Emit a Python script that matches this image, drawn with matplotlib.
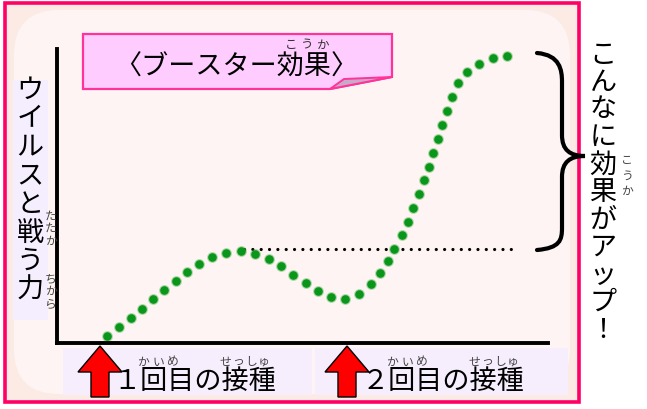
import matplotlib
matplotlib.use('Agg')
import matplotlib.pyplot as plt
from matplotlib.patches import Rectangle, Polygon, FancyBboxPatch, PathPatch
from matplotlib.path import Path

plt.rcParams['font.family'] = ['Noto Sans CJK JP', 'DejaVu Sans']

# ---- data (time in arbitrary units 0-100, strength 0-100) ----
time = [10.2, 12.6, 15.1, 17.3, 19.6, 21.8, 24.2, 26.5, 28.9, 31.6, 34.4, 37.5,
        40.3, 43.2, 45.6, 48.1, 50.7, 53.2, 55.8, 58.7, 61.5, 64.0, 65.8, 67.4,
        68.6, 70.3, 71.5, 72.5, 73.7, 74.7, 75.8, 76.6, 77.6, 78.4, 79.4, 80.4,
        81.7, 83.5, 85.9, 88.8, 91.6]
strength = [2.4, 5.4, 8.5, 11.6, 15.0, 18.0, 21.1, 24.1, 26.9, 29.3, 30.6, 31.3,
            30.3, 28.6, 26.2, 23.1, 20.4, 17.7, 15.6, 15.0, 16.7, 20.1, 23.8, 27.9,
            32.0, 36.7, 41.2, 45.9, 50.7, 55.4, 59.9, 64.6, 69.4, 74.1, 78.9, 83.7,
            88.4, 92.2, 94.9, 96.9, 97.6]
ref_level = 32.0
ref_range = [38.1, 93.9]

title = "〈ブースター効果〉"
title_ruby = "こうか"
ylabel = "ウイルスと戦う力"
side_note = "こんなに効果がアップ！"
dose_labels = ["１回目の接種", "２回目の接種"]
ruby_kaime = "かいめ"
ruby_sesshu = "せっしゅ"

W, H = 647, 409
fig = plt.figure(figsize=(6.47, 4.09), dpi=100)
fig.patch.set_facecolor('white')

def px_axes(z):
    a = fig.add_axes([0, 0, 1, 1], zorder=z)
    a.set_xlim(0, W)
    a.set_ylim(H, 0)
    a.axis('off')
    return a

bg = px_axes(0)
# frame background
bg.add_patch(Rectangle((5, 3), 574, 399, fc='#FCEAE4', ec='none'))
bg.add_patch(FancyBboxPatch((14, 10), 556, 384,
                            boxstyle='round,pad=0,rounding_size=45',
                            fc='#FDF4F3', ec='none'))
# y label box
bg.add_patch(Rectangle((13, 80), 35, 240, fc='#F5EEFF', ec='none'))
# bottom label boxes
bg.add_patch(Rectangle((63, 348), 249, 47, fc='#F7EEFD', ec='none'))
bg.add_patch(Rectangle((315, 348), 253, 47, fc='#F7EEFD', ec='none'))

# ---- main chart axes ----
left, right, bottom, top = 57, 548, 343, 49
ax = fig.add_axes([left / W, (H - bottom) / H, (right - left) / W, (bottom - top) / H], zorder=1)
ax.patch.set_alpha(0)
ax.set_xlim(0, 100)
ax.set_ylim(0, 100)
for s in ['top', 'right']:
    ax.spines[s].set_visible(False)
for s in ['left', 'bottom']:
    ax.spines[s].set_linewidth(2.8)
    ax.spines[s].set_color('black')
ax.set_xticks([])
ax.set_yticks([])

ax.plot(ref_range, [ref_level, ref_level], color='black', lw=2.3,
        ls=(0, (0.01, 2.6)), dash_capstyle='round', clip_on=False)
ax.plot(time, strength, ls='none', marker='o', ms=7.8, color='#4cb54c',
        alpha=0.45, mec='none', clip_on=False)
ax.plot(time, strength, ls='none', marker='o', ms=6.2, color='#0a961a',
        mec='none', clip_on=False)

# ---- foreground decorations ----
fg = px_axes(2)
fg.add_patch(Rectangle((5, 3), 574, 399, fill=False, ec='#FF0066', lw=2.6))

# title box with folded corner
fg.add_patch(Polygon([(83, 34), (392, 34), (392, 77), (330, 89), (83, 89)],
                     closed=True, fc='#FFCCFF', ec='#FF3399', lw=1.6))
fg.add_patch(Polygon([(330, 89), (344, 79), (392, 77)], closed=True,
                     fc='#C9A9C9', ec='#FF3399', lw=1.4))
fg.text(236, 67, title, fontsize=19.5, ha='center', va='center', color='black')
for i, ch in enumerate(title_ruby):
    fg.text(291 + i * 16, 45, ch, fontsize=9, ha='center', va='center', color='#333333')

# vertical y label
for i, ch in enumerate(ylabel):
    fg.text(30, 90 + i * 28.6, ch, fontsize=19.5, ha='center', va='center')
for i, ch in enumerate("たたか"):
    fg.text(51, 216 + i * 12.5, ch, fontsize=8.5, ha='center', va='center', color='#444444')
for i, ch in enumerate("ちから"):
    fg.text(51, 279 + i * 12.5, ch, fontsize=8.5, ha='center', va='center', color='#444444')

# right side note
for i, ch in enumerate(side_note):
    fg.text(603, 55 + i * 27.5, ch, fontsize=19.5, ha='center', va='center')
for i, ch in enumerate(title_ruby):
    fg.text(627, 161 + i * 15, ch, fontsize=8.5, ha='center', va='center', color='#444444')

# brace
verts = [(537, 53), (560, 55), (562, 70), (562, 82),
         (562, 135),
         (562, 150), (570, 156), (585, 156),
         (570, 156), (562, 162), (562, 177),
         (562, 228),
         (562, 240), (560, 248), (537, 250)]
codes = [Path.MOVETO, Path.CURVE4, Path.CURVE4, Path.CURVE4,
         Path.LINETO,
         Path.CURVE4, Path.CURVE4, Path.CURVE4,
         Path.CURVE4, Path.CURVE4, Path.CURVE4,
         Path.LINETO,
         Path.CURVE4, Path.CURVE4, Path.CURVE4]
fg.add_patch(PathPatch(Path(verts, codes), fill=False, ec='black', lw=3, capstyle='round'))

# arrows and dose labels
arrow_x = [100, 347]
label_x = [113, 362]
for cx, lx, lab in zip(arrow_x, label_x, dose_labels):
    fg.add_patch(Polygon([(cx, 346), (cx - 22, 372), (cx - 9, 372), (cx - 9, 397),
                          (cx + 9, 397), (cx + 9, 372), (cx + 22, 372)],
                         closed=True, fc='#FF0000', ec='black', lw=1))
    fg.text(lx, 381, lab, fontsize=19.5, ha='left', va='center')
    for i, ch in enumerate(ruby_kaime):
        fg.text(lx + 30 + i * 15, 362, ch, fontsize=8.5, ha='center', va='center', color='#444444')
    for i, ch in enumerate(ruby_sesshu):
        fg.text(lx + 112 + i * 13, 362, ch, fontsize=8.5, ha='center', va='center', color='#444444')

fig.savefig('out.png', dpi=100)
